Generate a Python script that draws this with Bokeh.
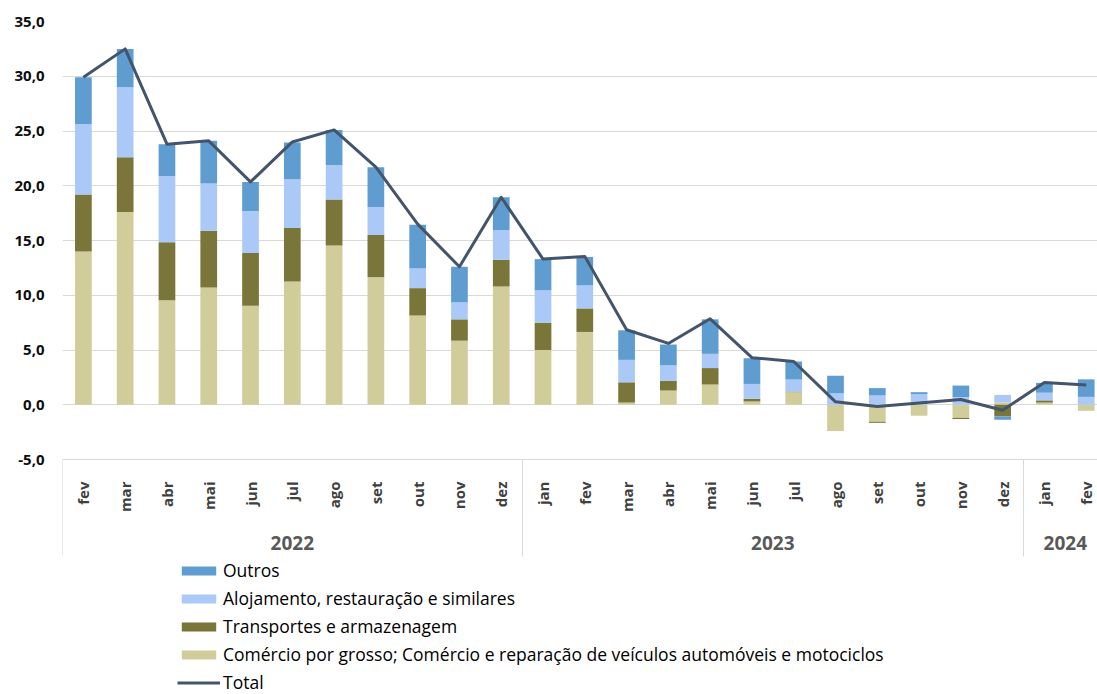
from math import pi
from bokeh.plotting import figure
from bokeh.models import (Range1d, FixedTicker, LinearAxis, Legend, LegendItem)
from bokeh.embed import file_html
from bokeh.resources import INLINE

# ---------------- data ----------------
months = ["fev", "mar", "abr", "mai", "jun", "jul", "ago", "set", "out", "nov", "dez",
          "jan", "fev", "mar", "abr", "mai", "jun", "jul", "ago", "set", "out", "nov", "dez",
          "jan", "fev"]
years = ["2022", "2023", "2024"]
months_per_year = [11, 12, 2]

comercio = [14.0, 17.6, 9.55, 10.7, 9.05, 11.25, 14.55, 11.65, 8.15, 5.85, 10.8,
            5.0, 6.65, 0.2, 1.3, 1.85, 0.3, 1.15, -2.4, -1.55, -1.0, -1.2, 0.2,
            0.2, -0.55]
transportes = [5.2, 5.0, 5.3, 5.2, 4.8, 4.9, 4.2, 3.85, 2.5, 1.95, 2.45,
               2.5, 2.15, 1.85, 0.9, 1.5, 0.25, 0.05, 0.0, -0.1, 0.0, -0.1, -1.07,
               0.2, 0.0]
alojamento = [6.45, 6.4, 6.05, 4.3, 3.85, 4.45, 3.15, 2.55, 1.8, 1.55, 2.7,
              2.95, 2.1, 2.05, 1.4, 1.3, 1.35, 1.1, 1.05, 0.85, 0.97, 0.7, 0.7,
              0.7, 0.72]
outros = [4.25, 3.5, 2.9, 3.9, 2.65, 3.35, 3.2, 3.65, 4.0, 3.25, 3.0,
          2.85, 2.6, 2.7, 1.9, 3.15, 2.35, 1.65, 1.6, 0.67, 0.18, 1.05, -0.3,
          0.9, 1.6]
total = [29.9, 32.5, 23.8, 24.1, 20.35, 24.0, 25.1, 21.7, 16.5, 12.6, 18.95,
         13.3, 13.55, 6.85, 5.6, 7.85, 4.3, 3.95, 0.27, -0.15, 0.15, 0.48, -0.5,
         2.04, 1.8]

series_names = ["Comércio por grosso; Comércio e reparação de veículos automóveis e motociclos",
                "Transportes e armazenagem",
                "Alojamento, restauração e similares",
                "Outros"]
series_values = [comercio, transportes, alojamento, outros]
series_colors = ["#D1CD9B", "#7A7539", "#ABC9F7", "#5F9DD1"]
y_ticks = [-5, 0, 5, 10, 15, 20, 25, 30, 35]
y_min, y_max = -5, 35

# ---------------- figure ----------------
x = list(range(len(months)))

# frame spans the full canvas height; axes are pinned at y = -5
p = figure(width=1097, height=694, output_backend="svg", toolbar_location=None,
           x_range=Range1d(-0.5, 24.27), y_range=Range1d(-26.46, y_max),
           min_border_left=62, min_border_right=0, min_border_top=21, min_border_bottom=0)
p.outline_line_color = None
p.background_fill_color = "white"
p.border_fill_color = "white"

# stacked bars (positives stacked upwards, negatives downwards)
pos_base = [0.0] * len(x)
neg_base = [0.0] * len(x)
renderers = {}
for name, vals, col in zip(series_names, series_values, series_colors):
    bottoms, tops = [], []
    for i, v in enumerate(vals):
        if v >= 0:
            bottoms.append(pos_base[i]); tops.append(pos_base[i] + v); pos_base[i] += v
        else:
            bottoms.append(neg_base[i]); tops.append(neg_base[i] + v); neg_base[i] += v
    r = p.vbar(x=x, bottom=bottoms, top=tops, width=0.4, fill_color=col, line_color=None)
    renderers[name] = r

r_total = p.line(x, total, line_color="#44546A", line_width=3, line_join="round")

# y axis
fmt = {t: (f"{t:.1f}").replace(".", ",") for t in y_ticks}
p.yaxis.ticker = FixedTicker(ticks=y_ticks)
p.yaxis.major_label_overrides = fmt
p.yaxis.axis_line_color = None
p.yaxis.major_tick_line_color = None
p.yaxis.minor_tick_line_color = None
p.yaxis.major_label_standoff = 12
p.yaxis.major_label_text_font = "Open Sans"
p.yaxis.major_label_text_font_style = "bold"
p.yaxis.major_label_text_font_size = "15px"
p.yaxis.major_label_text_color = "#0d0d0d"

p.ygrid.ticker = FixedTicker(ticks=y_ticks)
p.ygrid.grid_line_color = "#d9d9d9"
p.xgrid.visible = False

# month axis
p.xaxis.fixed_location = y_min
p.xaxis.ticker = FixedTicker(ticks=x)
p.xaxis.major_label_overrides = {i: m for i, m in enumerate(months)}
p.xaxis.major_label_orientation = pi / 2
p.xaxis.axis_line_color = "#d9d9d9"
p.xaxis.major_tick_line_color = None
p.xaxis.minor_tick_line_color = None
p.xaxis.major_label_standoff = 16
p.xaxis.major_label_text_font = "Open Sans"
p.xaxis.major_label_text_font_style = "bold"
p.xaxis.major_label_text_font_size = "15px"
p.xaxis.major_label_text_color = "#404040"

# year axis and group separators
year_pos = []
start = 0
for n in months_per_year:
    year_pos.append(start + (n - 1) / 2)
    start += n
sep_pos = [-0.499]
start = 0
for n in months_per_year[:-1]:
    start += n
    sep_pos.append(start - 0.5)

year_axis = LinearAxis(fixed_location=y_min, ticker=FixedTicker(ticks=year_pos),
                       major_label_overrides={pos: y for pos, y in zip(year_pos, years)},
                       axis_line_color=None, major_tick_line_color=None,
                       minor_tick_line_color=None, major_label_standoff=70,
                       major_label_text_font="Open Sans", major_label_text_font_style="bold",
                       major_label_text_font_size="19px", major_label_text_color="#595959")
p.add_layout(year_axis, "below")

sep_axis = LinearAxis(fixed_location=y_min, ticker=FixedTicker(ticks=sep_pos),
                      axis_line_color=None, major_tick_in=0, major_tick_out=97,
                      major_tick_line_color="#d9d9d9", minor_tick_line_color=None,
                      major_label_text_font_size="0px", major_label_text_alpha=0)
p.add_layout(sep_axis, "below")

# legend (inside the frame, below the axes)
items = [LegendItem(label=series_names[3], renderers=[renderers[series_names[3]]]),
         LegendItem(label=series_names[2], renderers=[renderers[series_names[2]]]),
         LegendItem(label=series_names[1], renderers=[renderers[series_names[1]]]),
         LegendItem(label=series_names[0], renderers=[renderers[series_names[0]]]),
         LegendItem(label="Total", renderers=[r_total])]
legend = Legend(items=items, location=(115, 0), orientation="vertical",
                margin=0, padding=0, spacing=4, glyph_width=43, glyph_height=11,
                label_height=20, label_standoff=3, border_line_color=None,
                background_fill_alpha=0, label_text_font="Open Sans",
                label_text_font_size="17.5px", label_text_color="#000000")
p.add_layout(legend, "center")

open("out.html", "w").write(file_html(p, INLINE))
